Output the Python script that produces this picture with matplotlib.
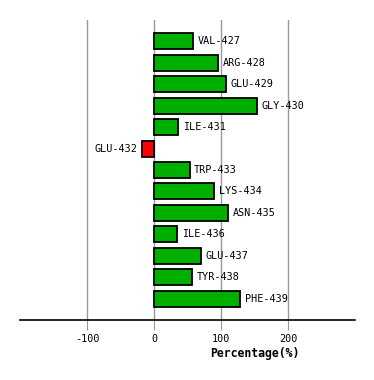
import matplotlib
matplotlib.use("Agg")
import matplotlib.pyplot as plt

# residues and percentage values
residues = ['VAL-427', 'ARG-428', 'GLU-429', 'GLY-430', 'ILE-431', 'GLU-432', 'TRP-433',
            'LYS-434', 'ASN-435', 'ILE-436', 'GLU-437', 'TYR-438', 'PHE-439']
percent = [58, 96, 107, 153, 36, -18, 53, 90, 110, 35, 70, 57, 129]
x_ticks = [-100, 0, 100, 200]

fig = plt.figure(figsize=(3.74, 3.8), dpi=100)
ax = fig.add_axes([20 / 374, 60 / 380, 335 / 374, 300 / 380])

colors = ['#00b000' if v >= 0 else '#ff0000' for v in percent]
pos = list(range(len(residues)))
ax.barh(pos, percent, height=0.75, color=colors, edgecolor='black', linewidth=1.3, zorder=3)

# labels next to the bar ends
for p, v, name in zip(pos, percent, residues):
    if v >= 0:
        ax.text(v + 7, p, name, va='center', ha='left', family='DejaVu Sans Mono', fontsize=7.3)
    else:
        ax.text(v - 7, p, name, va='center', ha='right', family='DejaVu Sans Mono', fontsize=7.3)

ax.set_xlim(-200, 300)
ax.set_ylim(len(residues), -1)
ax.set_xticks(x_ticks)
ax.set_xticklabels([str(t) for t in x_ticks], family='DejaVu Sans Mono', fontsize=7.3)
ax.set_yticks([])
ax.grid(axis='x', color='#999999', linewidth=1, zorder=0)
ax.tick_params(axis='x', length=7, color='#999999', pad=3)

for side in ['top', 'left', 'right']:
    ax.spines[side].set_visible(False)
ax.spines['bottom'].set_color('black')
ax.spines['bottom'].set_linewidth(1.2)

ax.set_xlabel('Percentage(%)', family='DejaVu Sans Mono', fontweight='bold', fontsize=8.3)
ax.xaxis.set_label_coords(0.70, -0.09)

fig.savefig('out.png', dpi=100)
